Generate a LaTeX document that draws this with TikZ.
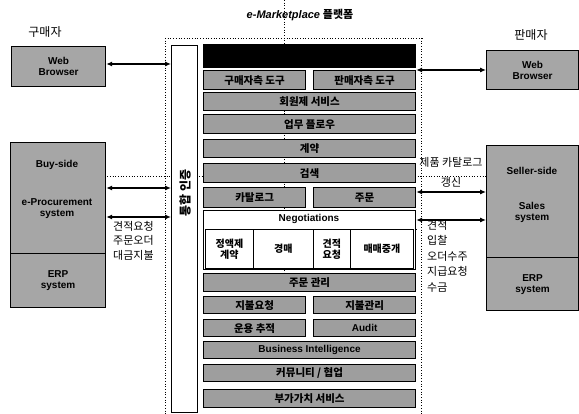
\documentclass[tikz,border=0pt]{standalone}
\usepackage{fontspec}
\setmainfont{Liberation Sans}
\newfontfamily\kr{Noto Sans CJK KR}
\usetikzlibrary{arrows.meta}
\begin{document}
\begin{tikzpicture}[x=1pt,y=-1pt,
  gbox/.style={draw=black, line width=1.2pt, fill=black!38, anchor=north west, inner sep=0pt, font=\kr\bfseries\fontsize{10.5}{11}\selectfont},
  wbox/.style={draw=black, line width=0.8pt, fill=white, anchor=north west, inner sep=0pt, align=center, font=\kr\bfseries\fontsize{10}{11}\selectfont},
  sidebox/.style={draw=black, line width=1.2pt, fill=black!35, anchor=north west, inner sep=0pt, align=center, font=\bfseries\fontsize{10}{11}\selectfont},
  arr/.style={{Latex[length=6pt,width=5pt]}-{Latex[length=6pt,width=5pt]}, line width=1.1pt},
  guide/.style={dotted, line width=0.7pt},
  lbl/.style={font=\kr\fontsize{11}{14.5}\selectfont, inner sep=0pt}
]
\useasboundingbox (0,0) rectangle (579,414);

% guide lines
\draw[guide] (165,38) -- (422,38);
\draw[guide] (165,38) -- (165,414);
\draw[guide] (421,38) -- (421,414);
\draw[guide] (284,0) -- (284,280);
\draw[guide] (10,176) -- (560,176);

% title and side titles
\node[inner sep=0pt] (title) at (300,15) {{\bfseries\itshape\fontsize{11}{12}\selectfont e-Marketplace} {\kr\bfseries\fontsize{11}{12}\selectfont 플랫폼}};
\node[lbl, font=\kr\fontsize{12}{13}\selectfont] (buyer) at (45,32) {구매자};
\node[lbl, font=\kr\fontsize{12}{13}\selectfont] (seller) at (531,35) {판매자};

% web browsers
\node[sidebox, minimum width=94pt, minimum height=40pt] (wb1) at (11,46) {Web\\Browser};
\node[sidebox, minimum width=92pt, minimum height=39pt] (wb2) at (486,50) {Web\\Browser};

% buy side
\node[sidebox, minimum width=95pt, minimum height=111pt] (buyup) at (10,142) {};
\node[sidebox, minimum width=95pt, minimum height=54pt] (buyerp) at (10,253) {ERP\\system};
\node[font=\bfseries\fontsize{10}{11}\selectfont, inner sep=0pt] (buylbl) at (57,165) {Buy-side};
\node[font=\bfseries\fontsize{10}{11}\selectfont, inner sep=0pt, align=center] (eproc) at (57,209) {e-Procurement\\system};

% seller side
\node[sidebox, minimum width=92pt, minimum height=112pt] (sellup) at (486,145) {};
\node[sidebox, minimum width=92pt, minimum height=53pt] (sellerp) at (486,257) {ERP\\system};
\node[font=\bfseries\fontsize{10}{11}\selectfont, inner sep=0pt] (selllbl) at (532,171) {Seller-side};
\node[font=\bfseries\fontsize{10}{11}\selectfont, inner sep=0pt, align=center] (sales) at (532,212) {Sales\\system};

% vertical bar
\node[draw=black, line width=1.2pt, fill=white, anchor=north west, minimum width=26pt, minimum height=367pt, inner sep=0pt] (bar) at (171,45) {};
\node[rotate=90, font=\kr\bfseries\fontsize{12}{13}\selectfont, inner sep=0pt] (barlbl) at (185,193) {통합 인증};

% stack
\node[gbox, fill=black, minimum width=212pt, minimum height=23pt] (blk) at (203,44) {};
\node[gbox, minimum width=102pt, minimum height=19pt] (tool1) at (203,70) {구매자측 도구};
\node[gbox, minimum width=102pt, minimum height=19pt] (tool2) at (313,70) {판매자측 도구};
\node[gbox, minimum width=212pt, minimum height=18pt] (member) at (203,92) {회원제 서비스};
\node[gbox, minimum width=212pt, minimum height=19pt] (flow) at (203,114) {업무 플로우};
\node[gbox, minimum width=212pt, minimum height=18pt] (contract) at (203,139) {계약};
\node[gbox, minimum width=212pt, minimum height=19pt] (search) at (203,163) {검색};
\node[gbox, minimum width=102pt, minimum height=20pt] (catalog) at (203,187) {카탈로그};
\node[gbox, minimum width=102pt, minimum height=20pt] (order) at (313,187) {주문};
\node[wbox, line width=1.2pt, minimum width=212pt, minimum height=59pt] (nego) at (203,210) {};
\node[font=\bfseries\fontsize{10}{11}\selectfont, inner sep=0pt] (negolbl) at (309,219) {Negotiations};
\draw[dotted, line width=0.8pt] (nego.west |- 0,229) -- (nego.east |- 0,229);
\node[wbox, minimum width=48pt, minimum height=39pt] (fixed) at (205,229) {정액제\\계약};
\node[wbox, minimum width=60pt, minimum height=39pt] (auction) at (253,229) {경매};
\node[wbox, minimum width=37pt, minimum height=39pt] (rfq) at (313,229) {견적\\요청};
\node[wbox, minimum width=63pt, minimum height=39pt] (broker) at (350,229) {매매중개};
\node[gbox, minimum width=212pt, minimum height=18pt] (ordmgmt) at (203,273) {주문 관리};
\node[gbox, minimum width=102pt, minimum height=17pt] (payreq) at (203,296) {지불요청};
\node[gbox, minimum width=102pt, minimum height=17pt] (paymgmt) at (313,296) {지불관리};
\node[gbox, minimum width=102pt, minimum height=17pt] (track) at (203,319) {운용 추적};
\node[gbox, minimum width=102pt, minimum height=17pt, font=\bfseries\fontsize{10}{11}\selectfont] (audit) at (313,319) {Audit};
\node[gbox, minimum width=212pt, minimum height=17pt, font=\bfseries\fontsize{10}{11}\selectfont] (bi) at (203,341) {Business Intelligence};
\node[gbox, minimum width=212pt, minimum height=17pt] (comm) at (203,364) {커뮤니티 / 협업};
\node[gbox, minimum width=212pt, minimum height=18pt] (vas) at (203,389) {부가가치 서비스};

% connectors
\draw[arr] (wb1.east |- 0,64) -- (bar.west |- 0,64);
\draw[arr] (tool2.east |- 0,70) -- (wb2.west |- 0,70);
\draw[arr] (buyup.east |- 0,188) -- (bar.west |- 0,188);
\draw[arr] (buyup.east |- 0,217) -- (bar.west |- 0,217);
\draw[arr] (search.east |- 0,192) -- (sellup.west |- 0,192);
\draw[arr] (nego.east |- 0,220) -- (sellup.west |- 0,220);

% labels
\node[lbl, align=left, anchor=north west] (buytxt) at (113,221) {견적요청\\주문오더\\대금지불};
\node[lbl, align=center, font=\kr\fontsize{11}{20}\selectfont] (cattxt) at (451,172) {제품 카탈로그\\갱신};
\node[lbl, align=left, anchor=north west, font=\kr\fontsize{11}{15.5}\selectfont] (selltxt) at (427,220) {견적\\입찰\\오더수주\\지급요청\\수금};
\end{tikzpicture}
\end{document}
